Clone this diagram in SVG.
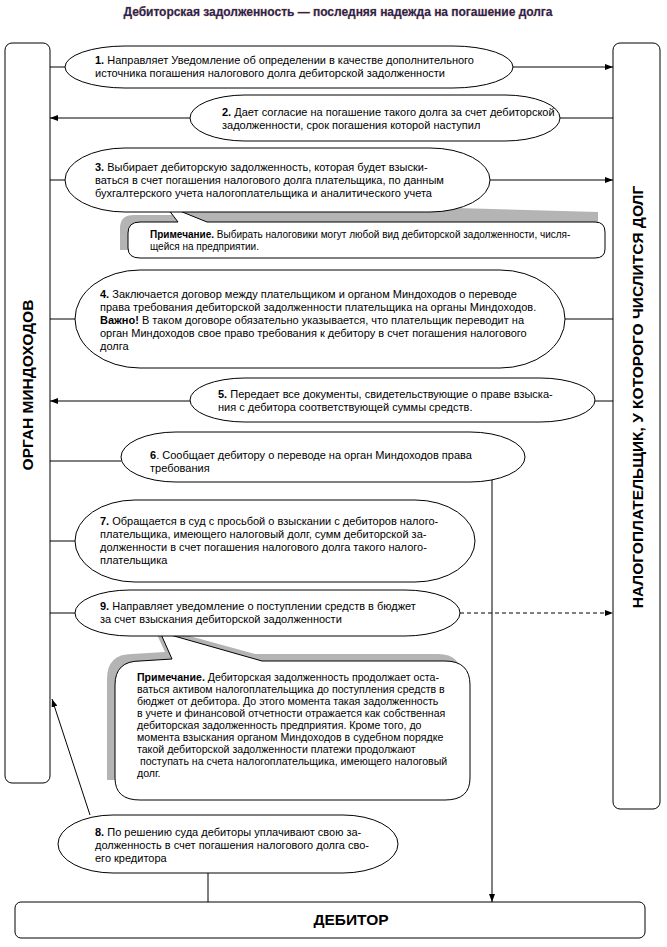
<svg xmlns="http://www.w3.org/2000/svg" width="667" height="947" viewBox="0 0 667 947">
<defs>
<marker id="ah" viewBox="0 0 8 6" refX="8" refY="3" markerWidth="8" markerHeight="6" markerUnits="userSpaceOnUse" orient="auto">
<path d="M0,0 L8,3 L0,6 Z" fill="#000"/>
</marker>
</defs>
<style>
.bg{fill:#fff}
.sh{fill:#fff;stroke:#000;stroke-width:1}
.gr{fill:#b4b4b4}
.ln{stroke:#000;stroke-width:1;fill:none}
.ar{stroke:#000;stroke-width:1;fill:none;marker-end:url(#ah)}
.ds{stroke:#000;stroke-width:1;fill:none;stroke-dasharray:4 3;marker-end:url(#ah)}
.t{font-family:"Liberation Sans",Arial,sans-serif;font-size:11px;fill:#000}
.m{font-family:"Liberation Sans",Arial,sans-serif;font-size:10.6px;fill:#000}
.n{font-family:"Liberation Sans",Arial,sans-serif;font-size:10px;fill:#000}
.b{font-weight:bold}
.big{font-family:"Liberation Sans",Arial,sans-serif;font-size:15.5px;font-weight:bold;fill:#000}
.title{font-family:"Liberation Sans",Arial,sans-serif;font-size:12px;font-weight:bold;fill:#1e2466;stroke:#f0a030;stroke-width:0.5;paint-order:stroke}
</style>
<rect class="bg" x="0" y="0" width="667" height="947"/>
<text class="title" x="338" y="16" text-anchor="middle" textLength="429" lengthAdjust="spacingAndGlyphs">Дебиторская задолженность — последняя надежда на погашение долга</text>

<g id="connectors">
<line class="ln" x1="50" y1="67" x2="65" y2="67"/>
<line class="ar" x1="513" y1="67" x2="613" y2="67"/>
<line class="ar" x1="190" y1="118" x2="50" y2="118"/>
<line class="ln" x1="560" y1="118" x2="613" y2="118"/>
<line class="ln" x1="50" y1="180" x2="65" y2="180"/>
<line class="ar" x1="490" y1="180" x2="613" y2="180"/>
<line class="ln" x1="50" y1="319" x2="75" y2="319"/>
<line class="ln" x1="565" y1="319" x2="613" y2="319"/>
<line class="ar" x1="190" y1="401" x2="50" y2="401"/>
<line class="ln" x1="595" y1="401" x2="613" y2="401"/>
<line class="ln" x1="50" y1="461" x2="121" y2="461"/>
<line class="ar" x1="492" y1="478" x2="492" y2="902"/>
<line class="ln" x1="50" y1="541" x2="75" y2="541"/>
<line class="ln" x1="50" y1="613" x2="75" y2="613"/>
<line class="ds" x1="460" y1="613" x2="613" y2="613"/>
<line class="ar" x1="90" y1="815" x2="52" y2="699"/>
<line class="ln" x1="208" y1="873" x2="208" y2="902"/>
</g>

<g id="organ">
<rect class="sh" x="5" y="43" width="45" height="740" rx="7"/>
<text class="big" transform="translate(33,385) rotate(-90)" text-anchor="middle">ОРГАН МИНДОХОДОВ</text>
</g>
<g id="taxpayer">
<rect class="sh" x="613" y="43" width="47" height="766" rx="7"/>
<text class="big" transform="translate(643,397) rotate(-90)" text-anchor="middle">НАЛОГОПЛАТЕЛЬЩИК, У КОТОРОГО ЧИСЛИТСЯ ДОЛГ</text>
</g>
<g id="debitor">
<rect class="sh" x="15" y="902" width="630" height="36" rx="6"/>
<text class="big" x="351" y="925" text-anchor="middle">ДЕБИТОР</text>
</g>

<g id="step1">
<rect class="sh" x="65" y="46" width="448" height="42" rx="60" ry="21"/>
<text class="t" x="95" y="64"><tspan class="b">1.</tspan> Направляет Уведомление об определении в качестве дополнительного</text>
<text class="t" x="95" y="77">источника погашения налогового долга дебиторской задолженности</text>
</g>
<g id="step2">
<rect class="sh" x="190" y="95" width="370" height="46" rx="55" ry="23"/>
<text class="t" x="222" y="116"><tspan class="b">2.</tspan> Дает согласие на погашение такого долга за счет дебиторской</text>
<text class="t" x="222" y="129">задолженности, срок погашения которой наступил</text>
</g>

<g id="note1">
<path class="gr" d="M120,228 Q120,215 134,215 L172,215 L158,200 L598,212 L598,250 L120,250 Z"/>
<path class="sh" d="M128,233 Q128,222 140,222 L178,222 L165,205 L207,222 L595,222 Q605,222 605,232 L605,249 Q605,258 595,258 L140,258 Q128,258 128,248 Z"/>
<text class="n" x="150" y="238"><tspan class="b">Примечание.</tspan> Выбирать налоговики могут любой вид дебиторской задолженности, числя-</text>
<text class="n" x="150" y="250">щейся на предприятии.</text>
</g>

<g id="step3">
<rect class="sh" x="65" y="148" width="425" height="64" rx="60" ry="32"/>
<text class="t" x="95" y="171"><tspan class="b">3.</tspan> Выбирает дебиторскую задолженность, которая будет взыски-</text>
<text class="t" x="95" y="184">ваться в счет погашения налогового долга плательщика, по данным</text>
<text class="t" x="95" y="197">бухгалтерского учета налогоплательщика и аналитического учета</text>
</g>

<g id="step4">
<rect class="sh" x="75" y="270" width="490" height="98" rx="65" ry="49"/>
<text class="t" x="100" y="298"><tspan class="b">4.</tspan> Заключается договор между плательщиком и органом Миндоходов о переводе</text>
<text class="t" x="100" y="311">права требования дебиторской задолженности плательщика на органы Миндоходов.</text>
<text class="t" x="100" y="324"><tspan class="b">Важно!</tspan> В таком договоре обязательно указывается, что плательщик переводит на</text>
<text class="t" x="100" y="337">орган Миндоходов свое право требования к дебитору в счет погашения налогового</text>
<text class="t" x="100" y="350">долга</text>
</g>
<g id="step5">
<rect class="sh" x="190" y="378" width="405" height="44" rx="55" ry="22"/>
<text class="t" x="218" y="398"><tspan class="b">5.</tspan> Передает все документы, свидетельствующие о праве взыска-</text>
<text class="t" x="218" y="411">ния с дебитора соответствующей суммы средств.</text>
</g>
<g id="step6">
<rect class="sh" x="121" y="432" width="404" height="50" rx="55" ry="25"/>
<text class="t" x="150" y="459"><tspan class="b">6</tspan>. Сообщает дебитору о переводе на орган Миндоходов права</text>
<text class="t" x="150" y="472">требования</text>
</g>
<g id="step7">
<rect class="sh" x="75" y="500" width="400" height="82" rx="60" ry="41"/>
<text class="t" x="100" y="525"><tspan class="b">7.</tspan> Обращается в суд с просьбой о взыскании с дебиторов налого-</text>
<text class="t" x="100" y="538">плательщика, имеющего налоговый долг, сумм дебиторской за-</text>
<text class="t" x="100" y="551">долженности в счет погашения налогового долга такого налого-</text>
<text class="t" x="100" y="564">плательщика</text>
</g>

<g id="note2">
<path class="gr" d="M107,679 Q107,654 132,654 L165,652 L153,626 L255,654 L438,654 Q462,654 462,679 L462,780 L107,780 Z"/>
<path class="sh" d="M115,685 Q115,661 140,661 L172,659 L160,632 L262,661 L445,661 Q470,661 470,685 L470,778 Q470,800 445,800 L140,800 Q115,800 115,778 Z"/>
<text class="m" x="137" y="681"><tspan class="b">Примечание.</tspan> Дебиторская задолженность продолжает оста-</text>
<text class="m" x="137" y="693">ваться активом налогоплательщика до поступления средств в</text>
<text class="m" x="137" y="705">бюджет от дебитора. До этого момента такая задолженность</text>
<text class="m" x="137" y="717">в учете и финансовой отчетности отражается как собственная</text>
<text class="m" x="137" y="729">дебиторская задолженность предприятия. Кроме того, до</text>
<text class="m" x="137" y="741">момента взыскания органом Миндоходов в судебном порядке</text>
<text class="m" x="137" y="753">такой дебиторской задолженности платежи продолжают</text>
<text class="m" x="137" y="765" xml:space="preserve"> поступать на счета налогоплательщика, имеющего налоговый</text>
<text class="m" x="137" y="777">долг.</text>
</g>

<g id="step9">
<rect class="sh" x="75" y="590" width="385" height="46" rx="55" ry="23"/>
<text class="t" x="100" y="610"><tspan class="b">9.</tspan> Направляет уведомление о поступлении средств в бюджет</text>
<text class="t" x="100" y="623">за счет взыскания дебиторской задолженности</text>
</g>

<g id="step8">
<rect class="sh" x="58" y="815" width="340" height="58" rx="55" ry="29"/>
<text class="t" x="95" y="836"><tspan class="b">8.</tspan> По решению суда дебиторы уплачивают свою за-</text>
<text class="t" x="95" y="849">долженность в счет погашения налогового долга сво-</text>
<text class="t" x="95" y="862">его кредитора</text>
</g>
</svg>
